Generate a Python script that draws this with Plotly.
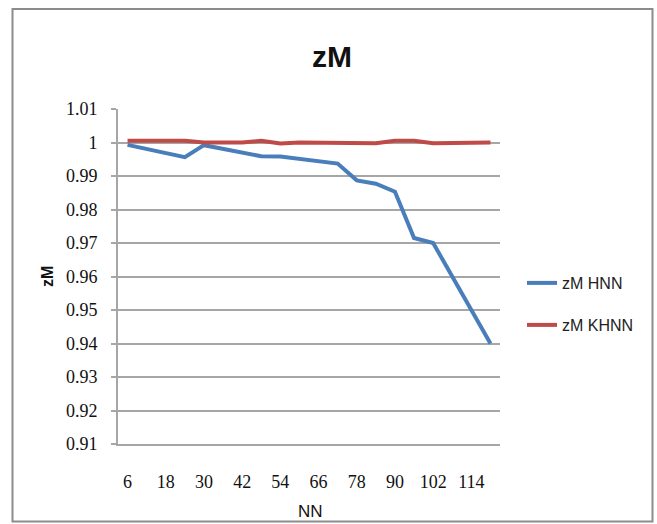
import plotly.graph_objects as go

# Neighbourhood size (NN) on the x axis
nn = [6, 12, 18, 24, 30, 36, 42, 48, 54, 60, 66, 72, 78, 84, 90, 96, 102, 108, 114, 120]

# zM for the two methods
zm_hnn = [0.9993, 0.9981, 0.9968, 0.9956, 0.9992, 0.9981, 0.9970, 0.9959, 0.9958, 0.9951,
          0.9944, 0.9937, 0.9887, 0.9877, 0.9853, 0.9715, 0.9700, 0.9600, 0.9500, 0.9400]
zm_khnn = [1.0005, 1.0005, 1.0005, 1.0005, 1.0000, 1.0000, 1.0000, 1.0005, 0.9997, 1.0000,
           1.0000, 0.9998, 0.9998, 0.9998, 1.0005, 1.0005, 0.9998, 0.9998, 0.9998, 1.0000]

x_ticks = [6, 18, 30, 42, 54, 66, 78, 90, 102, 114]
y_ticks = [1.01, 1.00, 0.99, 0.98, 0.97, 0.96, 0.95, 0.94, 0.93, 0.92, 0.91]
y_tick_text = ["1.01", "1", "0.99", "0.98", "0.97", "0.96", "0.95", "0.94", "0.93", "0.92", "0.91"]

BLUE = "#4A7EBB"
RED = "#BE4B48"
GRID = "#A6A6A6"
SANS = "Liberation Sans, Arial, sans-serif"
SERIF = "Liberation Serif, Times New Roman, serif"

fig = go.Figure()
fig.add_trace(go.Scatter(x=nn, y=zm_hnn, mode="lines", name="zM HNN",
                         line=dict(color=BLUE, width=4), legend="legend"))
fig.add_trace(go.Scatter(x=nn, y=zm_khnn, mode="lines", name="zM KHNN",
                         line=dict(color=RED, width=4), legend="legend2"))

L, R, T, B = 118, 157, 109, 80
W, H = 657, 524
pw, ph = W - L - R, H - T - B


def px_x(p):
    return (p - L) / pw


def px_y(p):
    return (H - B - p) / ph


legend_common = dict(bgcolor="rgba(0,0,0,0)", borderwidth=0,
                     font=dict(family=SANS, size=16, color="#222222"),
                     xanchor="left", yanchor="middle", itemwidth=30)

fig.update_layout(
    width=W, height=H,
    margin=dict(l=L, r=R, t=T, b=B),
    paper_bgcolor="white", plot_bgcolor="white",
    title=dict(text="<b>zM</b>", font=dict(family=SANS, size=30, color="#111111"),
               x=px_x(332), xref="paper", xanchor="center",
               y=(H - 56) / H, yref="container", yanchor="middle"),
    xaxis=dict(range=[3, 123], tickvals=x_ticks, ticktext=[str(v) for v in x_ticks],
               showgrid=False, zeroline=False, showline=True, linecolor=GRID, linewidth=2,
               ticks="", ticklabelstandoff=20,
               tickfont=dict(family=SERIF, size=18, color="#111111")),
    yaxis=dict(range=[0.91, 1.01], tickvals=y_ticks, ticktext=y_tick_text,
               showgrid=True, gridcolor=GRID, gridwidth=2, zeroline=False,
               showline=True, linecolor=GRID, linewidth=2,
               ticks="outside", ticklen=5, tickcolor=GRID, tickwidth=2,
               ticklabelstandoff=10,
               tickfont=dict(family=SERIF, size=18, color="#111111")),
    legend=dict(x=px_x(522), y=px_y(283), **legend_common),
    legend2=dict(x=px_x(522), y=px_y(325), **legend_common),
    showlegend=True,
    annotations=[
        dict(text="<b>zM</b>", textangle=-90, x=px_x(47), y=px_y(277),
             xref="paper", yref="paper", xanchor="center", yanchor="middle",
             showarrow=False, font=dict(family=SANS, size=16, color="#111111")),
        dict(text="NN", x=px_x(310), y=px_y(511), xref="paper", yref="paper",
             xanchor="center", yanchor="middle",
             showarrow=False, font=dict(family=SANS, size=17, color="#111111")),
    ],
    shapes=[
        dict(type="rect", xref="paper", yref="paper",
             x0=px_x(12.5), x1=px_x(652.5), y0=px_y(521.5), y1=px_y(9),
             line=dict(color="#8C8C8C", width=2), fillcolor="rgba(0,0,0,0)", layer="below"),
    ],
)

fig.write_html("out.html")
